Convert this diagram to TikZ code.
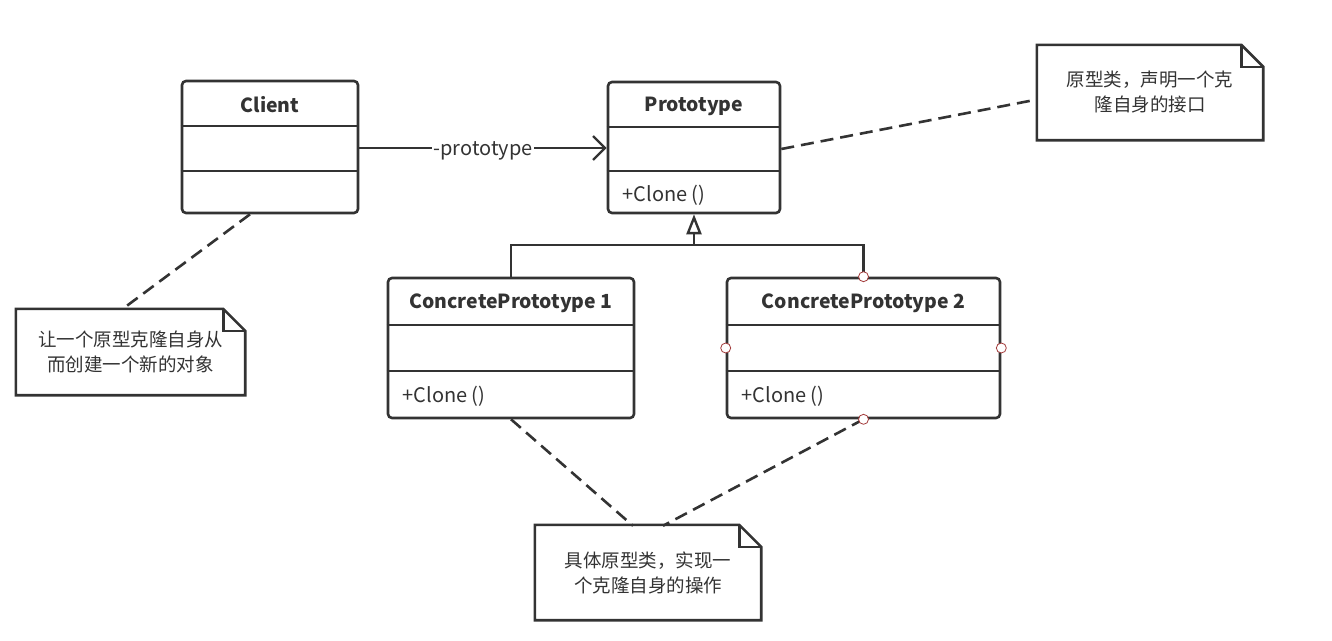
\documentclass[tikz,border=0pt]{standalone}
\usepackage{fontspec}
\setmainfont{Noto Sans CJK SC}
\usetikzlibrary{arrows.meta}
\definecolor{umlgray}{HTML}{333333}
\definecolor{pinred}{HTML}{A33B3B}

\tikzset{
  umlclass/.style={draw=umlgray, line width=2.6pt, rounded corners=4pt, fill=white},
  classname/.style={font=\fontsize{19.4}{24}\selectfont\bfseries, text=umlgray},
  member/.style={font=\fontsize{20}{24}\selectfont, text=umlgray, anchor=west},
  notetext/.style={font=\fontsize{18.5}{25}\selectfont, text=umlgray, align=center},
  notelink/.style={draw=umlgray, line width=2.6pt, dash pattern=on 13pt off 7pt},
  pin/.style={draw=pinred, fill=white, line width=0.8pt}
}

\begin{document}
\begin{tikzpicture}[x=1pt,y=-1pt, line width=2.4pt, draw=umlgray]
\useasboundingbox (0,0) rectangle (1332,640);

% classes
\node [umlclass, minimum width=176pt, minimum height=132pt] (client) at (270,147) {};
\node [umlclass, minimum width=172pt, minimum height=131pt] (proto) at (694,147.5) {};
\node [umlclass, minimum width=246pt, minimum height=140pt] (cp1) at (511,348) {};
\node [umlclass, minimum width=273pt, minimum height=140pt] (cp2) at (863.5,348) {};

\draw (client.west |- 0,126) -- (client.east |- 0,126) ;
\draw (client.west |- 0,171) -- (client.east |- 0,171) ;
\draw (proto.west |- 0,127) -- (proto.east |- 0,127) ;
\draw (proto.west |- 0,171) -- (proto.east |- 0,171) ;
\draw (cp1.west |- 0,325) -- (cp1.east |- 0,325) ;
\draw (cp1.west |- 0,371) -- (cp1.east |- 0,371) ;
\draw (cp2.west |- 0,325) -- (cp2.east |- 0,325) ;
\draw (cp2.west |- 0,371) -- (cp2.east |- 0,371) ;

\node [classname] (clientname) at (270,105) {Client} ;
\node [classname] (protoname) at (694,106) {Prototype} ;
\node [classname] (cp1name) at (511,303) {ConcretePrototype 1} ;
\node [classname] (cp2name) at (863.5,303) {ConcretePrototype 2} ;

\node [member] (protoclone) at (618,195) {+Clone ()} ;
\node [member] (cp1clone) at (398,396) {+Clone ()} ;
\node [member] (cp2clone) at (737,396) {+Clone ()} ;

% association
\draw [-{Straight Barb[length=12pt,width=24pt,line width=2.4pt]}] (client.east |- 0,148) -- node [fill=white, inner sep=1pt, yshift=-3pt, font=\fontsize{20}{24}\selectfont, text=umlgray] (assoc) {-prototype} (proto.west |- 0,148) ;

% generalization
\coordinate (join) at (694,245) ;
\draw (cp1.north) |- (join) -| (cp2.north) ;
\draw [-{Triangle[open, length=20pt, width=15pt, line width=2.4pt]}] (join) -- (proto.south) ;

% notes
\node [notetext, minimum width=224pt, minimum height=93pt] (n1) at (1150,92.5) {原型类，声明一个克\\隆自身的接口} ;
\node [notetext, minimum width=227pt, minimum height=84pt] (n2) at (130.5,352) {让一个原型克隆自身从\\而创建一个新的对象} ;
\node [notetext, minimum width=224pt, minimum height=93pt] (n3) at (648,572.5) {具体原型类，实现一\\个克隆自身的操作} ;

\foreach \n in {n1,n2,n3} {
  \draw [line width=2.6pt] (\n.north west) -- ([xshift=-22pt]\n.north east) -- ([yshift=-22pt]\n.north east) -- (\n.south east) -- (\n.south west) -- cycle ;
  \draw [line width=2.6pt] ([xshift=-22pt]\n.north east) |- ([yshift=-22pt]\n.north east) ;
}

% note links
\draw [notelink] ([yshift=-1.5pt]proto.east) -- ([xshift=-5pt,yshift=-8pt]n1.west) ;
\draw [notelink] ([xshift=-20pt]client.south) -- ([xshift=-5pt,yshift=2pt]n2.north) ;
\draw [notelink] (cp1.south) -- ([xshift=-15pt,yshift=-1pt]n3.north) ;
\draw [notelink] (cp2.south) -- ([xshift=15pt,yshift=-1pt]n3.north) ;

% selection handles
\foreach \a in {north,west,east,south}
  \draw [pin] (cp2.\a) circle (5pt) ;

\end{tikzpicture}
\end{document}
